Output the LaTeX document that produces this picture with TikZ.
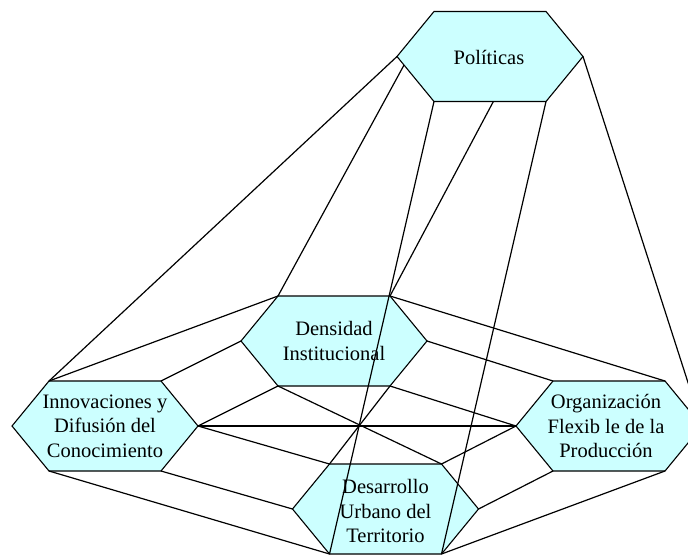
\documentclass[tikz,border=0pt]{standalone}
\usepackage{fontspec}
\setmainfont{Liberation Serif}
\usetikzlibrary{calc}
\definecolor{hexfill}{HTML}{CCFFFF}
\tikzset{
  hexbox/.style={fill=hexfill, draw=black, line width=1.1pt, line join=miter},
  link/.style={draw=black, line width=1.2pt},
  lbl/.style={align=center, font=\fontsize{20.5}{24.5}\selectfont, inner sep=0pt},
}
\newcommand\hexat[3]{%
  \coordinate (#1-tl) at ({#2-56},{#3-45});
  \coordinate (#1-tr) at ({#2+56},{#3-45});
  \coordinate (#1-r) at ({#2+93},{#3});
  \coordinate (#1-br) at ({#2+56},{#3+45});
  \coordinate (#1-bl) at ({#2-56},{#3+45});
  \coordinate (#1-l) at ({#2-93},{#3});
  \path[hexbox] (#1-tl) -- (#1-tr) -- (#1-r) -- (#1-br) -- (#1-bl) -- (#1-l) -- cycle;
}
\begin{document}
\begin{tikzpicture}[x=1pt,y=-1pt]
\useasboundingbox (0,0) rectangle (688,555);
\fill[white] (0,0) rectangle (688,555);
\clip (0,0) rectangle (688,555);
% hexagons
\hexat{P}{490}{56.5}
\hexat{D}{334}{341}
\hexat{I}{105}{426}
\hexat{O}{609}{426}
\hexat{U}{385.5}{509}
% labels
\node[lbl] (P) at (489,57) {Políticas};
\node[lbl] (D) at (334,341) {Densidad\\Institucional};
\node[lbl] (I) at (105,426) {Innovaciones y\\Difusión del\\Conocimiento};
\node[lbl] (O) at (606,426) {Organización\\Flexib le de la\\Producción};
\node[lbl] (U) at (385.5,511) {Desarrollo\\Urbano del\\Territorio};
% extra anchor points on Politicas
\coordinate (P-l2) at ($(P-l)!0.19!(P-bl)$);
\coordinate (P-bm) at ($(P-bl)!0.53!(P-br)$);
% connectors
\draw[link] (P-l) -- (I-tl);
\draw[link] (P-l2) -- (D-tl);
\draw[link] (P-bl) -- (U-bl);
\draw[link] (P-bm) -- (D-tr);
\draw[link] (P-br) -- (U-br);
\draw[link] (P-r) -- (O-r);
\draw[link] (D-tl) -- (I-tl);
\draw[link] (D-l) -- (I-tr);
\draw[link] (D-tr) -- (O-tr);
\draw[link] (D-r) -- (O-tl);
\draw[link] (D-bl) -- (I-r);
\draw[link] (D-bl) -- (U-tr);
\draw[link] (D-br) -- (U-tl);
\draw[link] (D-br) -- (O-l);
\draw[link] (I-r) -- (O-l);
\draw[link] (I-r) -- (U-tl);
\draw[link] (U-tr) -- (O-l);
\draw[link] (I-bl) -- (U-bl);
\draw[link] (I-br) -- (U-l);
\draw[link] (U-r) -- (O-bl);
\draw[link] (U-br) -- (O-br);
\end{tikzpicture}
\end{document}
